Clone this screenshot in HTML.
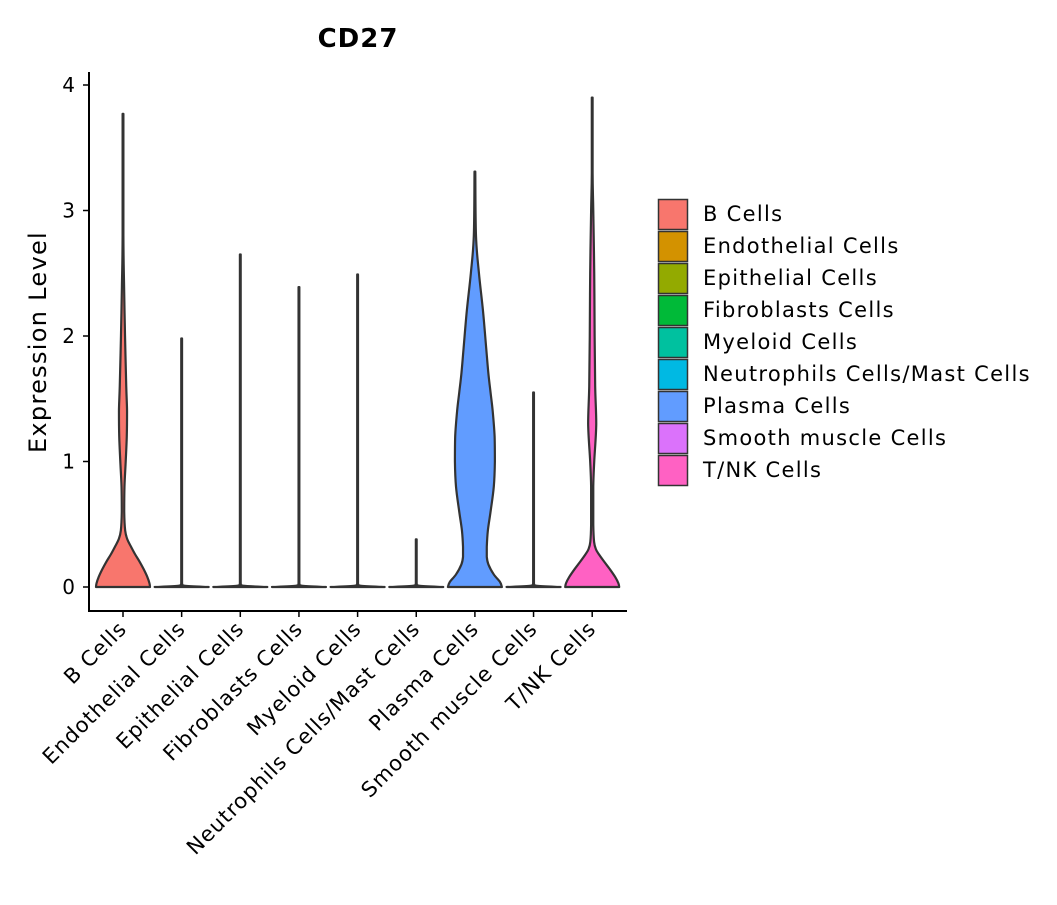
<!DOCTYPE html>
<html><head><meta charset="utf-8"><style>
body{margin:0;background:#fff;}
svg text{font-family:"DejaVu Sans","Liberation Sans",sans-serif;fill:#000;}
</style></head><body>
<svg id="chart" width="1057" height="900" viewBox="0 0 1057 900" xmlns="http://www.w3.org/2000/svg">
<text x="358" y="47" text-anchor="middle" font-size="26" font-weight="bold" letter-spacing="1">CD27</text>
<text transform="translate(46,342) rotate(-90)" text-anchor="middle" font-size="24" letter-spacing="1.3">Expression Level</text>
<g id="plot"></g>
<g id="legend"></g>
</svg>
<script>
const categories=["B Cells","Endothelial Cells","Epithelial Cells","Fibroblasts Cells","Myeloid Cells","Neutrophils Cells/Mast Cells","Plasma Cells","Smooth muscle Cells","T/NK Cells"];
const colors=["#F8766D","#D39200","#93AA00","#00BA38","#00C19F","#00B9E3","#619CFF","#DB72FB","#FF61C3"];
const maxVals=[3.77,1.98,2.65,2.39,2.49,0.38,3.31,1.55,3.9];
// density profiles: y levels and relative half-widths (0..1)
const profY=[
 [0,0.03,0.08,0.14,0.2,0.26,0.32,0.38,0.45,0.6,0.8,1.0,1.2,1.4,1.6,2.0,2.4,2.8],
 [0,0.01,0.03],[0,0.01,0.03],[0,0.01,0.03],[0,0.01,0.03],[0,0.01,0.03],
 [0,0.04,0.1,0.18,0.24,0.32,0.45,0.6,0.8,1.0,1.2,1.4,1.55,1.7,1.9,2.2,2.5,2.8],
 [0,0.01,0.03],
 [0,0.03,0.08,0.14,0.2,0.26,0.3,0.36,0.5,0.8,1.0,1.3,1.6,2.0,2.5,3.0,3.3]];
const profW=[
 [1,0.98,0.9,0.77,0.62,0.45,0.3,0.16,0.08,0.045,0.055,0.1,0.14,0.15,0.12,0.075,0.04,0.012],
 [1,0.1,0.01],[1,0.1,0.01],[1,0.1,0.01],[1,0.1,0.01],[1,0.1,0.01],
 [1,0.93,0.7,0.5,0.44,0.44,0.48,0.58,0.7,0.74,0.73,0.66,0.58,0.5,0.42,0.3,0.15,0.04],
 [1,0.1,0.01],
 [1,0.97,0.85,0.66,0.45,0.25,0.14,0.07,0.04,0.04,0.075,0.15,0.11,0.09,0.075,0.04,0.012]];
const yTicks=[0,1,2,3,4];
const xL=89,xR=627,yB=611;
const y=v=>587-v*125.5;
const x=i=>123+i*58.65;
const maxHW=27;
const ns="http://www.w3.org/2000/svg";
const plot=document.getElementById('plot');
function mk(t,a,p){const e=document.createElementNS(ns,t);for(const k in a)e.setAttribute(k,a[k]);(p||plot).appendChild(e);return e;}
const clamp=(v,a,b)=>Math.min(Math.max(v,Math.min(a,b)),Math.max(a,b));
function smooth(pts){
  let d="M"+pts[0][0].toFixed(2)+","+pts[0][1].toFixed(2);
  for(let k=0;k<pts.length-1;k++){
    const p0=pts[Math.max(k-1,0)],p1=pts[k],p2=pts[k+1],p3=pts[Math.min(k+2,pts.length-1)];
    const c1=[clamp(p1[0]+(p2[0]-p0[0])/6,p1[0],p2[0]),clamp(p1[1]+(p2[1]-p0[1])/6,p1[1],p2[1])];
    const c2=[clamp(p2[0]-(p3[0]-p1[0])/6,p1[0],p2[0]),clamp(p2[1]-(p3[1]-p1[1])/6,p1[1],p2[1])];
    d+=`C${c1[0].toFixed(2)},${c1[1].toFixed(2)} ${c2[0].toFixed(2)},${c2[1].toFixed(2)} ${p2[0].toFixed(2)},${p2[1].toFixed(2)}`;
  }
  return d;
}
categories.forEach((c,i)=>{
  const ys=profY[i].concat([maxVals[i]]), ws=profW[i].concat([0.006]);
  const cx=x(i);
  let right=ys.map((v,j)=>[cx+Math.max(ws[j]*maxHW,0.4),y(v)]);
  let left=ys.map((v,j)=>[cx-Math.max(ws[j]*maxHW,0.4),y(v)]).reverse();
  const d=smooth(right)+"L"+smooth(left).slice(1)+"Z";
  const p=mk('path',{d:d,fill:colors[i],stroke:'#333',"stroke-width":2.2,"stroke-linejoin":"round"});
  
  
  mk('line',{x1:cx,x2:cx,y1:yB,y2:yB+6,stroke:'#000',"stroke-width":1.5});
  const t=mk('text',{transform:`translate(${cx+5},${yB+19}) rotate(-45)`,"text-anchor":"end","font-size":21,"letter-spacing":1});
  t.textContent=c;
  
  
});
const ax=mk('path',{d:`M${xL},72V${yB}H${xR}`,fill:'none',stroke:'#000',"stroke-width":2});


yTicks.forEach(v=>{
  mk('line',{x1:xL-6,x2:xL,y1:y(v),y2:y(v),stroke:'#000',"stroke-width":1.5});
  const t=mk('text',{x:xL-14,y:y(v)+7,"text-anchor":"end","font-size":20});
  t.textContent=v;
  
  
});
const lg=document.getElementById('legend');
categories.forEach((c,i)=>{
  const r=mk('rect',{x:658.5,y:199.5+i*32,width:29,height:30,fill:colors[i],stroke:'#333',"stroke-width":1.5},lg);
  
  
  const t=mk('text',{x:703,y:221+i*32,"font-size":21,"letter-spacing":1.3},lg);
  t.textContent=c;
  
  
});
</script>
</body></html>
